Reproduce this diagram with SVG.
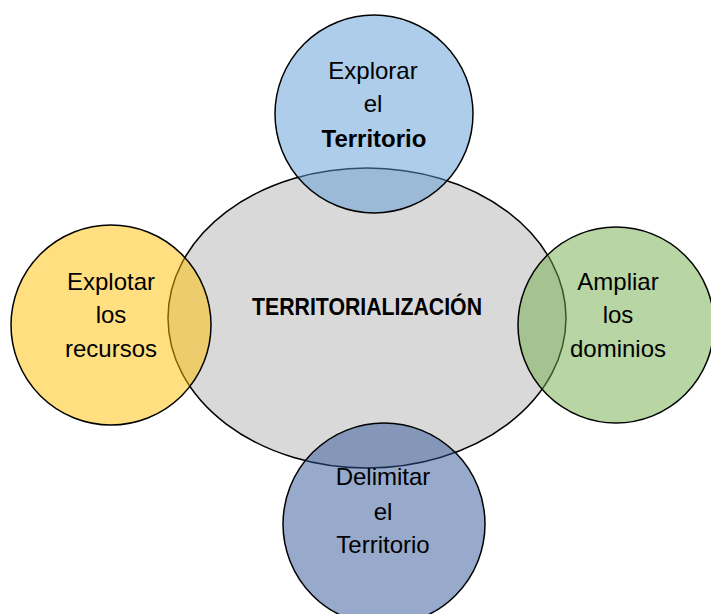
<svg xmlns="http://www.w3.org/2000/svg" width="711" height="614" viewBox="0 0 711 614">
<style>
.shape{stroke:#000;stroke-width:1.5}
.c{fill-opacity:0.5}
text{font-family:"Liberation Sans",Arial,sans-serif;font-size:24px;fill:#000;text-anchor:middle}
.b{font-weight:bold}
</style>
<rect width="711" height="614" fill="#fff"/>
<g id="center">
<ellipse class="shape" cx="367" cy="318" rx="199" ry="150" fill="#d9d9d9"/>
<text class="b" x="367" y="315" font-size="21.5" textLength="230" lengthAdjust="spacingAndGlyphs">TERRITORIALIZACIÓN</text>
</g>
<g id="explorar">
<circle class="shape c" cx="374" cy="114" r="99" fill="#5B9BD5"/>
<text x="373" y="79">Explorar</text>
<text x="373" y="112">el</text>
<text class="b" x="374" y="147">Territorio</text>
</g>
<g id="explotar">
<circle class="shape c" cx="111" cy="325" r="100" fill="#FFC000"/>
<text x="111" y="290">Explotar</text>
<text x="111" y="323">los</text>
<text x="111" y="357">recursos</text>
</g>
<g id="ampliar">
<circle class="shape c" cx="616" cy="325" r="98" fill="#70AD47"/>
<text x="618" y="290">Ampliar</text>
<text x="618" y="323">los</text>
<text x="618" y="357">dominios</text>
</g>
<g id="delimitar">
<circle class="shape c" cx="384" cy="524" r="101" fill="#2F5597"/>
<text x="383" y="485">Delimitar</text>
<text x="383" y="520">el</text>
<text x="383" y="553">Territorio</text>
</g>
<g id="connectors"></g>
</svg>
